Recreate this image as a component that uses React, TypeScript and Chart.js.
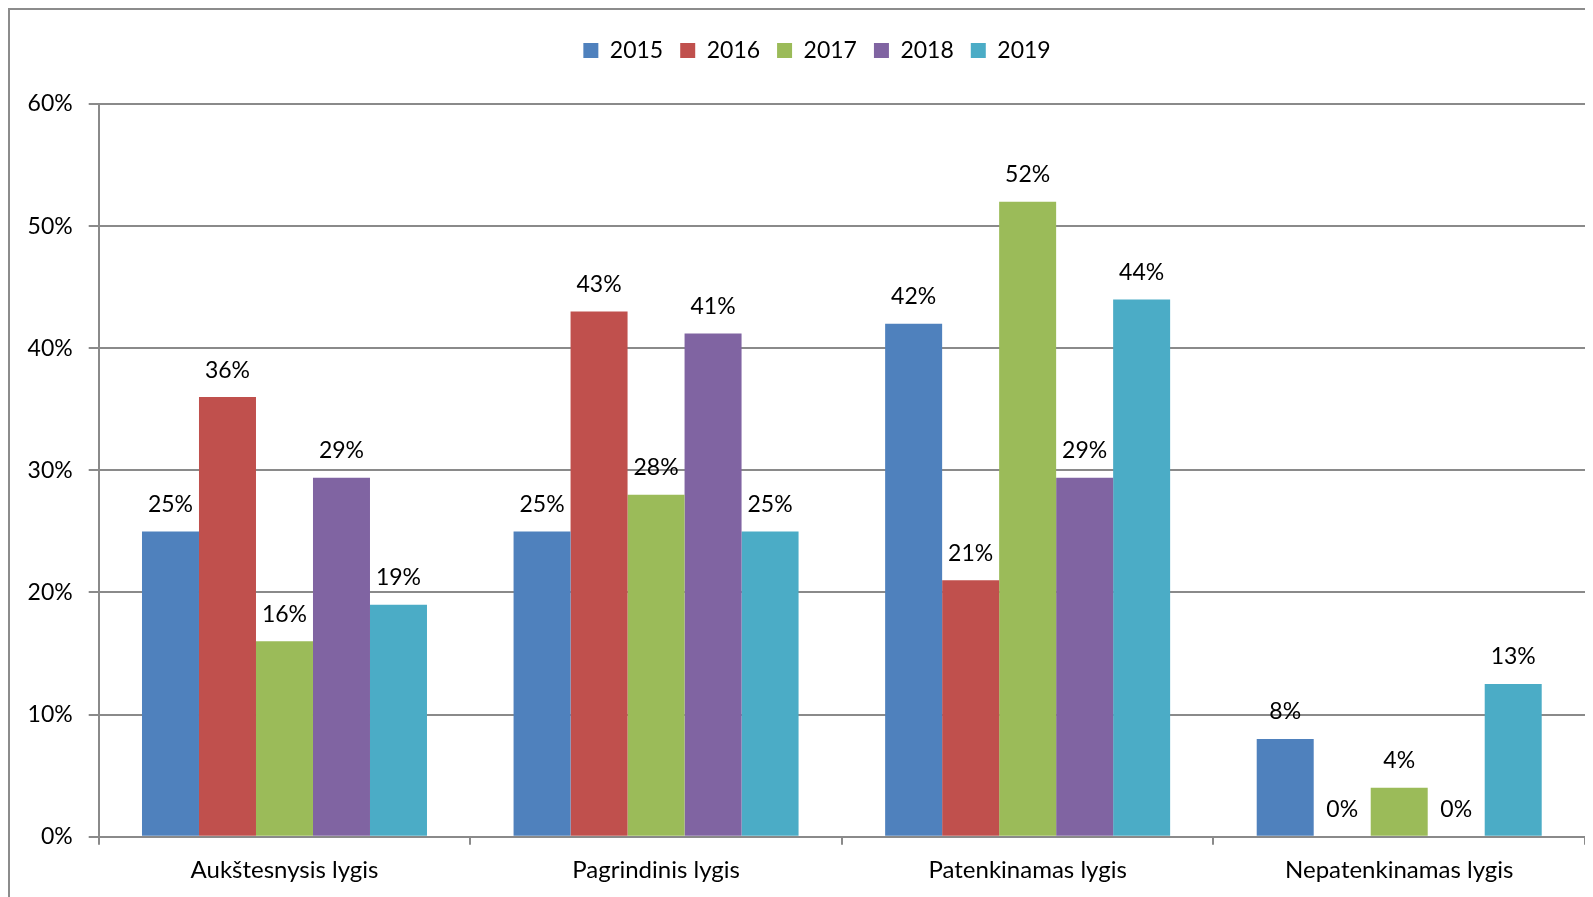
import React, { useEffect, useRef } from "react";
import { Chart, registerables } from "chart.js";

Chart.register(...registerables);

const categories = ["Aukštesnysis lygis", "Pagrindinis lygis", "Patenkinamas lygis", "Nepatenkinamas lygis"];
const seriesNames = ["2015", "2016", "2017", "2018", "2019"];
const values2015 = [25, 25, 42, 8];
const values2016 = [36, 43, 21, 0];
const values2017 = [16, 28, 52, 4];
const values2018 = [29.4, 41.2, 29.4, 0];
const values2019 = [19, 25, 44, 12.5];
const seriesColors = ["#4F81BD", "#C0504D", "#9BBB59", "#8064A2", "#4BACC6"];
const yTicks = [0, 10, 20, 30, 40, 50, 60];

const FONT = "Lato, 'Open Sans', sans-serif";

export default function App() {
  const ref = useRef<HTMLCanvasElement | null>(null);

  useEffect(() => {
    document.documentElement.style.overflow = "hidden";
    document.body.style.overflow = "hidden";
    const canvas = ref.current;
    if (!canvas) return;
    const allValues = [values2015, values2016, values2017, values2018, values2019];

    const dataLabels = {
      id: "dataLabels",
      afterDatasetsDraw(chart: any) {
        const ctx = chart.ctx;
        ctx.save();
        ctx.font = `23px ${FONT}`;
        ctx.fillStyle = "#000";
        ctx.textAlign = "center";
        ctx.textBaseline = "middle";
        chart.data.datasets.forEach((ds: any, di: number) => {
          const meta = chart.getDatasetMeta(di);
          meta.data.forEach((el: any, i: number) => {
            const v = ds.data[i];
            ctx.fillText(Math.round(v) + "%", el.x, el.y - 27);
          });
        });
        ctx.restore();
      },
    };

    const legendMargin = {
      id: "legendMargin",
      beforeInit(chart: any) {
        const legend = chart.legend;
        if (!legend) return;
        const origFit = legend.fit;
        legend.fit = function () {
          origFit.call(this);
          this.height += 32;
        };
      },
      afterLayout(chart: any) {
        if (chart.legend) chart.legend.left += 39;
      },
    };

    const chart = new Chart(canvas, {
      type: "bar",
      data: {
        labels: categories,
        datasets: seriesNames.map((name, i) => ({
          label: name,
          data: allValues[i],
          backgroundColor: seriesColors[i],
          borderWidth: 0,
          categoryPercentage: 0.767,
          barPercentage: 1,
        })),
      },
      options: {
        animation: false,
        responsive: false,
        maintainAspectRatio: false,
        devicePixelRatio: 1,
        layout: { padding: { top: 12, left: 0, right: 45, bottom: 0 } },
        plugins: {
          tooltip: { enabled: false },
          legend: {
            position: "top",
            labels: {
              boxWidth: 15,
              boxHeight: 15,
              padding: 17,
              color: "#000",
              font: { family: FONT, size: 23 },
            },
          },
        },
        scales: {
          x: {
            offset: true,
            grid: {
              display: true,
              offset: true,
              drawOnChartArea: false,
              drawTicks: true,
              tickLength: 8,
              color: "#8a8a8a",
              lineWidth: 2,
            },
            border: { display: true, color: "#8a8a8a", width: 2 },
            ticks: {
              color: "#000",
              font: { family: FONT, size: 24 },
              padding: 11,
              maxRotation: 0,
            },
            afterFit(scale: any) {
              scale.height = 63.3;
            },
          },
          y: {
            min: 0,
            max: 60,
            afterBuildTicks(scale: any) {
              scale.ticks = yTicks.map((v) => ({ value: v }));
            },
            grid: {
              color: "#8a8a8a",
              lineWidth: 2,
              drawTicks: true,
              tickLength: 10,
            },
            border: { display: true, color: "#8a8a8a", width: 2 },
            ticks: {
              color: "#000",
              font: { family: FONT, size: 23 },
              padding: 16,
              callback: (v: any) => v + "%",
            },
            afterFit(scale: any) {
              scale.width = 88.7;
            },
          },
        },
      },
      plugins: [legendMargin, dataLabels],
    } as any);

    return () => chart.destroy();
  }, []);

  return (
    <div
      style={{
        width: 1620,
        height: 890,
        borderLeft: "2px solid #8c8c8c",
        borderTop: "2px solid #8c8c8c",
        position: "relative",
      }}
    >
      <canvas ref={ref} width={1620} height={890} style={{ display: "block" }} />
    </div>
  );
}
